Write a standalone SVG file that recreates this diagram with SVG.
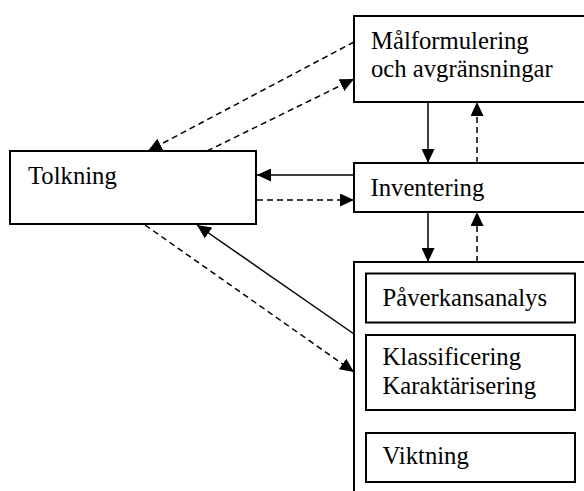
<svg xmlns="http://www.w3.org/2000/svg" width="584" height="491" viewBox="0 0 584 491">
<style>
.box{fill:#fff;stroke:#000;stroke-width:2}
.t{font-family:"Liberation Serif","Times New Roman",serif;font-size:24.7px;fill:#000}
.c{fill:none;stroke:#000;stroke-width:1.5}
.d{stroke-dasharray:6,4}
</style>
<defs>
<marker id="ah" markerUnits="userSpaceOnUse" markerWidth="15" markerHeight="13" refX="14" refY="6.5" orient="auto">
<path d="M0,0 L14,6.5 L0,13 Z" fill="#000"/>
</marker>
</defs>
<rect width="584" height="491" fill="#fff"/>
<g id="connectors">
<line class="c" x1="428" y1="102" x2="428" y2="163" marker-end="url(#ah)"/>
<line class="c d" x1="477" y1="163" x2="477" y2="102" marker-end="url(#ah)"/>
<line class="c" x1="428" y1="212" x2="428" y2="262" marker-end="url(#ah)"/>
<line class="c d" x1="477" y1="262" x2="477" y2="212" marker-end="url(#ah)"/>
<line class="c" x1="354" y1="175" x2="257" y2="175" marker-end="url(#ah)"/>
<line class="c d" x1="257" y1="200" x2="354" y2="200" marker-end="url(#ah)"/>
<line class="c d" x1="354" y1="42" x2="148" y2="151" marker-end="url(#ah)"/>
<line class="c d" x1="207" y1="151" x2="354" y2="79" marker-end="url(#ah)"/>
<line class="c" x1="354" y1="334" x2="197" y2="225" marker-end="url(#ah)"/>
<line class="c d" x1="145" y1="225" x2="354" y2="372" marker-end="url(#ah)"/>
</g>
<g id="malformulering">
<rect class="box" x="354" y="16" width="240" height="86"/>
<text class="t" x="371" y="48.5">Målformulering</text>
<text class="t" x="371" y="77">och avgränsningar</text>
</g>
<g id="tolkning">
<rect class="box" x="10" y="151" width="246" height="73"/>
<text class="t" x="28" y="183.5">Tolkning</text>
</g>
<g id="inventering">
<rect class="box" x="354" y="163" width="240" height="49"/>
<text class="t" x="370.5" y="195.5">Inventering</text>
</g>
<g id="analys">
<rect class="box" x="354" y="262" width="240" height="240"/>
</g>
<g id="paverkansanalys">
<rect class="box" x="366" y="273.5" width="209" height="49"/>
<text class="t" x="382.5" y="305.5">Påverkansanalys</text>
</g>
<g id="klassificering">
<rect class="box" x="366" y="335" width="209" height="75"/>
<text class="t" x="382.5" y="365">Klassificering</text>
<text class="t" x="382.5" y="393.5">Karaktärisering</text>
</g>
<g id="viktning">
<rect class="box" x="366" y="433" width="209" height="49"/>
<text class="t" x="382.5" y="463.5">Viktning</text>
</g>
</svg>
